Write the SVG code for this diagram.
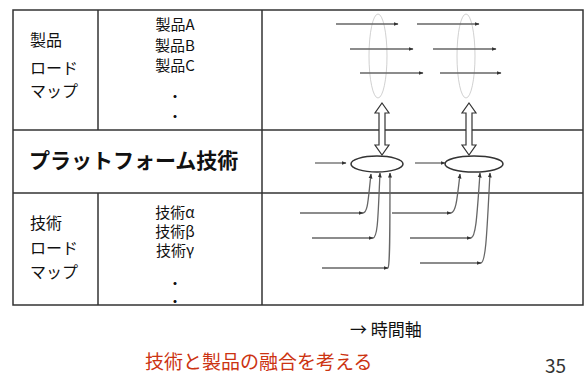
<svg xmlns="http://www.w3.org/2000/svg" width="585" height="380" viewBox="0 0 585 380">
<defs>
<marker id="ah" viewBox="0 0 10 10" refX="9" refY="5" markerWidth="5" markerHeight="5" markerUnits="userSpaceOnUse" orient="auto">
<path d="M0,1 L10,5 L0,9 Z" fill="#333"/>
</marker>
<style>
.t{font-family:"Noto Sans CJK JP","Liberation Sans",sans-serif;fill:#111}
.c{text-anchor:middle}
.d{font-family:"Noto Sans CJK JP","Liberation Sans",sans-serif;fill:#111;text-anchor:middle;font-size:12px;font-weight:bold}
.grid{stroke:#333;stroke-width:1.5;fill:none}
.ln{stroke:#666;stroke-width:1.3;fill:none;marker-end:url(#ah)}
.ghost{stroke:#c4c4c4;stroke-width:0.8;fill:none}
.dbl{fill:#fff;stroke:#333;stroke-width:1.2}
.ell{fill:#fff;stroke:#333;stroke-width:1.5}
</style>
</defs>
<rect width="585" height="380" fill="#fff"/>
<g id="grid">
<rect class="grid" x="13" y="10" width="570" height="295" stroke-width="2"/>
<line class="grid" x1="13" y1="130" x2="583" y2="130"/>
<line class="grid" x1="13" y1="193" x2="583" y2="193"/>
<line class="grid" x1="98" y1="10" x2="98" y2="130"/>
<line class="grid" x1="98" y1="193" x2="98" y2="305"/>
<line class="grid" x1="262" y1="10" x2="262" y2="305"/>
</g>
<g id="product-label">
<text class="t" x="30" y="46" font-size="16">製品</text>
<text class="t" x="30" y="74" font-size="16">ロード</text>
<text class="t" x="30" y="97" font-size="16">マップ</text>
</g>
<g id="product-list">
<text class="t c" x="175" y="30" font-size="15">製品A</text>
<text class="t c" x="175" y="51" font-size="15">製品B</text>
<text class="t c" x="175" y="71" font-size="15">製品C</text>
<text class="d" x="175" y="102">・</text>
<text class="d" x="175" y="122">・</text>
</g>
<g id="platform-label">
<text class="t" x="29" y="168" font-size="21" font-weight="bold">プラットフォーム技術</text>
</g>
<g id="tech-label">
<text class="t" x="30" y="229" font-size="16">技術</text>
<text class="t" x="30" y="254" font-size="16">ロード</text>
<text class="t" x="30" y="278" font-size="16">マップ</text>
</g>
<g id="tech-list">
<text class="t c" x="175" y="218" font-size="15">技術α</text>
<text class="t c" x="175" y="237" font-size="15">技術β</text>
<text class="t c" x="175" y="256" font-size="15">技術γ</text>
<text class="d" x="175" y="289">・</text>
<text class="d" x="175" y="307">・</text>
</g>
<g id="product-group-1">
<ellipse class="ghost" cx="378" cy="56" rx="9" ry="42"/>
</g>
<g id="product-group-2">
<ellipse class="ghost" cx="466" cy="56" rx="9" ry="42"/>
</g>
<g id="platform-1">
<ellipse class="ell" cx="377" cy="164" rx="26" ry="8"/>
</g>
<g id="platform-2">
<ellipse class="ell" cx="474" cy="164" rx="29" ry="8"/>
</g>
<g id="connectors">
<line class="ln" x1="336" y1="24" x2="398" y2="24"/>
<line class="ln" x1="417" y1="24" x2="479" y2="24"/>
<line class="ln" x1="350" y1="49" x2="413" y2="49"/>
<line class="ln" x1="433" y1="49" x2="496" y2="49"/>
<line class="ln" x1="360" y1="73" x2="423" y2="73"/>
<line class="ln" x1="440" y1="73" x2="501" y2="73"/>
<polygon class="dbl" points="382,103 389,113 385,113 385,145 389,145 382,155 375,145 379,145 379,113 375,113"/>
<polygon class="dbl" points="469,103 476,113 472,113 472,145 476,145 469,155 462,145 466,145 466,113 462,113"/>
<line class="ln" x1="315" y1="163" x2="346" y2="163"/>
<line class="ln" x1="415" y1="163" x2="445" y2="163"/>
<line class="ln" x1="300" y1="213" x2="363" y2="213"/>
<path class="ln" d="M363,213 C368,212 368,200 371,174"/>
<line class="ln" x1="312" y1="238" x2="373" y2="238"/>
<path class="ln" d="M373,238 C378,237 378,215 380,173"/>
<line class="ln" x1="322" y1="268" x2="388" y2="268"/>
<path class="ln" d="M388,268 C390,266 390,230 390,173"/>
<line class="ln" x1="392" y1="213" x2="451" y2="213"/>
<path class="ln" d="M451,213 C456,212 457,200 460,174"/>
<line class="ln" x1="410" y1="238" x2="471" y2="238"/>
<path class="ln" d="M471,238 C476,237 477,215 480,173"/>
<line class="ln" x1="420" y1="263" x2="481" y2="263"/>
<path class="ln" d="M481,263 C486,262 487,230 490,173"/>
</g>
<g id="axis-label">
<text class="t" x="350" y="336" font-size="17">→ 時間軸</text>
</g>
<g id="caption">
<text class="t" x="145" y="369" font-size="19" style="fill:#cc3311">技術と製品の融合を考える</text>
<text class="t" x="545" y="373" font-size="19" style="fill:#333">35</text>
</g>
</svg>
